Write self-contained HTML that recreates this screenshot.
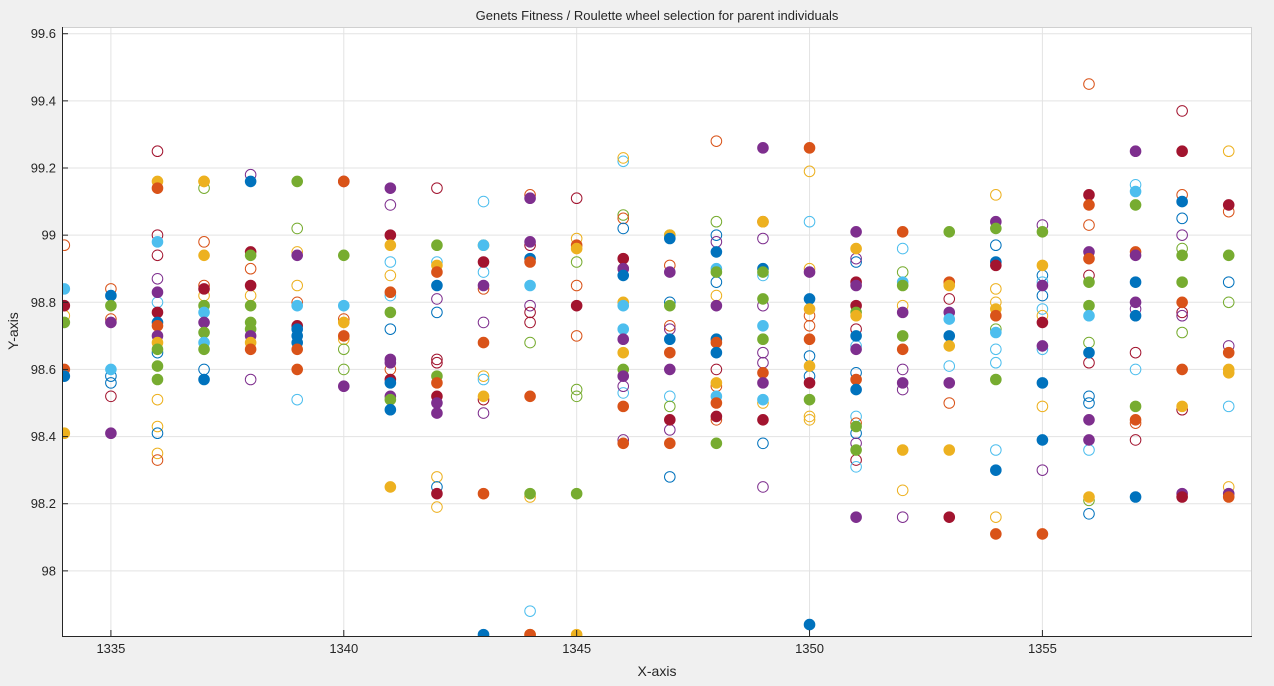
<!DOCTYPE html>
<html><head><meta charset="utf-8"><style>
html,body{margin:0;padding:0;background:#f0f0f0;}
svg{display:block;font-family:"Liberation Sans",sans-serif;}
</style></head><body>
<svg id="chart" width="1274" height="686">
<rect x="0" y="0" width="1274" height="686" fill="#f0f0f0"/>
<rect x="62" y="27" width="1190" height="609" fill="#ffffff"/>
<g id="grid"></g>
<g id="marks"></g>
<g id="axes"></g>
<text x="657" y="20" text-anchor="middle" font-size="13" fill="#262626">Genets Fitness / Roulette wheel selection for parent individuals</text>
<text x="657" y="676" text-anchor="middle" font-size="14" fill="#262626">X-axis</text>
<text x="18" y="331" text-anchor="middle" font-size="14" fill="#262626" transform="rotate(-90 18 331)">Y-axis</text>
</svg>
<script>
const xTicks=[1335,1340,1345,1350,1355];
const yTicks=[98,98.2,98.4,98.6,98.8,99,99.2,99.4,99.6];
const yTickLabels=["98","98.2","98.4","98.6","98.8","99","99.2","99.4","99.6"];
const colorMap={b:"#0072BD",o:"#D95319",y:"#EDB120",p:"#7E2F8E",g:"#77AC30",c:"#4DBEEE",r:"#A2142F"};
const filledPts=[
[1334,"98.84c 98.79r 98.74g 98.6o 98.58b 98.41y"],
[1335,"98.82b 98.79g 98.74p 98.6c 98.41p"],
[1336,"99.16y 99.14o 98.98c 98.83p 98.77r 98.74b 98.73o 98.70p 98.68y 98.66g 98.61g 98.57g"],
[1337,"99.16y 98.94y 98.84r 98.79g 98.77c 98.74p 98.71g 98.68c 98.66g 98.57b"],
[1338,"99.16b 98.95r 98.94g 98.85r 98.79g 98.74g 98.72g 98.70p 98.68y 98.66o"],
[1339,"99.16g 98.94p 98.79c 98.73r 98.72b 98.70b 98.68b 98.66o 98.6o"],
[1340,"99.16o 98.94g 98.79c 98.74y 98.70o 98.55p"],
[1341,"99.14p 99.0r 98.97y 98.83o 98.77g 98.63p 98.62p 98.57r 98.56b 98.52p 98.51g 98.48b 98.25y"],
[1342,"98.97g 98.91y 98.89o 98.85b 98.58g 98.56o 98.52r 98.5p 98.47p 98.23r"],
[1343,"98.97c 98.92r 98.85p 98.68o 98.52y 98.23o 97.81b"],
[1344,"99.11p 98.98p 98.93b 98.92o 98.85c 98.52o 98.23g 97.81y 97.81o"],
[1345,"98.97o 98.96y 98.79r 98.23g 97.81y"],
[1346,"98.93r 98.9p 98.88b 98.8y 98.79c 98.72c 98.69p 98.65y 98.6g 98.58p 98.49o 98.38o"],
[1347,"99.0y 98.99b 98.89p 98.79g 98.69b 98.65o 98.6p 98.45r 98.38o"],
[1348,"98.95b 98.9c 98.89g 98.79p 98.69b 98.68o 98.65b 98.56y 98.52c 98.5o 98.46r 98.38g"],
[1349,"99.26p 99.04y 98.9b 98.89g 98.81g 98.73c 98.69g 98.59o 98.56p 98.51c 98.45r"],
[1350,"99.26o 98.89p 98.81b 98.78y 98.69o 98.61y 98.56r 98.51g 97.84b"],
[1351,"99.01p 98.96y 98.86r 98.85p 98.79r 98.77g 98.76y 98.7b 98.66p 98.57o 98.54b 98.43g 98.36g 98.16p"],
[1352,"99.01o 98.86c 98.85g 98.77p 98.7g 98.66o 98.56p 98.36y"],
[1353,"99.01g 98.86o 98.85y 98.77p 98.75c 98.7b 98.67y 98.56p 98.36y 98.16r"],
[1354,"99.04p 99.02g 98.92b 98.91r 98.78y 98.76o 98.71c 98.57g 98.3b 98.11o"],
[1355,"99.01g 98.91y 98.85p 98.74r 98.67p 98.56b 98.39b 98.11o"],
[1356,"99.12r 99.09o 98.95p 98.93o 98.86g 98.79g 98.76c 98.65b 98.45p 98.39p 98.22y"],
[1357,"99.25p 99.13c 99.09g 98.95o 98.94p 98.86b 98.8p 98.76b 98.49g 98.45o 98.22b"],
[1358,"99.25r 99.1b 98.94g 98.86g 98.8o 98.6o 98.49y 98.23p 98.22r"],
[1359,"99.09r 98.94g 98.65o 98.6y 98.59y 98.23p 98.22o"]
];
const openPts=[
[1334,"98.97o 98.76y"],
[1335,"98.84o 98.58b 98.56b 98.52r 98.75o"],
[1336,"99.25r 99.0r 98.94r 98.87p 98.8c 98.65b 98.51y 98.43y 98.41b 98.35y 98.33o"],
[1337,"99.16y 99.14g 98.98o 98.85o 98.82y 98.6b"],
[1338,"99.18p 98.9o 98.82y 98.57p"],
[1339,"99.02g 98.95y 98.85y 98.8o 98.51c"],
[1340,"99.16r 98.75o 98.69y 98.66g 98.6g"],
[1341,"99.09p 98.92c 98.88y 98.82c 98.72b 98.6o"],
[1342,"99.14r 98.92c 98.81p 98.77b 98.63r 98.62r 98.28y 98.19y 98.25b"],
[1343,"99.1c 98.97y 98.89c 98.84o 98.74p 98.58y 98.57c 98.47p 98.51r"],
[1344,"99.12o 98.97r 98.79p 98.77r 98.74r 98.68g 98.22y 97.88c"],
[1345,"99.11r 98.99y 98.92g 98.85o 98.7o 98.54g 98.52g"],
[1346,"99.22c 99.23y 99.06g 99.05o 99.02b 98.9o 98.53c 98.55p 98.39p"],
[1347,"99.0g 98.91o 98.8b 98.73o 98.72p 98.52c 98.49g 98.42p 98.28b"],
[1348,"99.28o 99.04g 99.0b 98.98p 98.86b 98.82y 98.6r 98.55o 98.45o"],
[1349,"99.04o 98.99p 98.88c 98.79p 98.65p 98.62p 98.5y 98.38b 98.25p"],
[1350,"99.19y 99.04c 98.9y 98.76o 98.73o 98.64b 98.58b 98.46y 98.45y"],
[1351,"98.92b 98.93p 98.72r 98.67c 98.59b 98.46c 98.44o 98.41b 98.38p 98.33r 98.31c"],
[1352,"98.96c 98.89g 98.79y 98.6p 98.54p 98.24y 98.16p"],
[1353,"98.81r 98.61c 98.5o"],
[1354,"99.12y 98.97b 98.84y 98.8y 98.72g 98.66c 98.62c 98.36c 98.16y"],
[1355,"99.03p 98.88b 98.86c 98.82b 98.78c 98.76y 98.66c 98.49y 98.3p"],
[1356,"99.45o 99.03o 98.88r 98.68g 98.62r 98.52b 98.5b 98.36c 98.17b 98.21g"],
[1357,"99.15c 98.78p 98.65r 98.6c 98.44o 98.39r"],
[1358,"99.37r 99.12o 99.05b 99.0p 98.96g 98.77r 98.76p 98.71g 98.48r"],
[1359,"99.25y 99.07o 98.86b 98.8g 98.67p 98.49c 98.25y"]
];
const L=62,R=1252,T=27,B=636;
const xMin=1333.95,xMax=1359.5,yMin=97.806,yMax=99.62;
function sx(v){return L+(v-xMin)/(xMax-xMin)*(R-L);}
function sy(v){return B-(v-yMin)/(yMax-yMin)*(B-T);}
const NS="http://www.w3.org/2000/svg";
const grid=document.getElementById('grid'),axes=document.getElementById('axes'),marks=document.getElementById('marks');
function mk(tag,attrs,parent){const e=document.createElementNS(NS,tag);for(const k in attrs)e.setAttribute(k,attrs[k]);parent.appendChild(e);return e;}
xTicks.forEach(t=>{
  const l=mk('line',{x1:sx(t),x2:sx(t),y1:T,y2:B,stroke:'#e3e3e3','stroke-width':1},grid);
  
  
  const tk=mk('line',{x1:sx(t),x2:sx(t),y1:B,y2:B-6,stroke:'#262626'},axes);
  
  
  const tx=mk('text',{x:sx(t),y:B+17,'text-anchor':'middle','font-size':13,fill:'#262626'},axes);
  tx.textContent=t;
  
  
});
yTicks.forEach((t,i)=>{
  const l=mk('line',{x1:L,x2:R,y1:sy(t),y2:sy(t),stroke:'#e3e3e3','stroke-width':1},grid);
  
  
  const tk=mk('line',{x1:L,x2:L+6,y1:sy(t),y2:sy(t),stroke:'#262626'},axes);
  
  
  const tx=mk('text',{x:L-6,y:sy(t)+4.5,'text-anchor':'end','font-size':13,fill:'#262626'},axes);
  tx.textContent=yTickLabels[i];
  
  
});
mk('line',{x1:L,x2:R,y1:T+0.5,y2:T+0.5,stroke:'#d0d0d0'},axes);
mk('line',{x1:R-0.5,x2:R-0.5,y1:T,y2:B,stroke:'#d0d0d0'},axes);
const ax1=mk('line',{x1:L+0.5,x2:L+0.5,y1:T,y2:B,stroke:'#262626'},axes);


const ax2=mk('line',{x1:L,x2:R,y1:B+0.5,y2:B+0.5,stroke:'#262626'},axes);


const clip=mk('clipPath',{id:'pc'},document.getElementById('chart'));
mk('rect',{x:L,y:T,width:R-L,height:B-T},clip);
marks.setAttribute('clip-path','url(#pc)');
function draw(set,filled){
  set.forEach(([x,s])=>{
    s.trim().split(/\s+/).forEach(tok=>{
      const c=colorMap[tok.slice(-1)],v=parseFloat(tok.slice(0,-1));
      const ci=mk('circle',{cx:sx(x),cy:sy(v),r:5.3,fill:filled?c:'none',stroke:c,'stroke-width':1},marks);
      
      
    });
  });
}
draw(openPts,false);
draw(filledPts,true);
</script>
</body></html>
